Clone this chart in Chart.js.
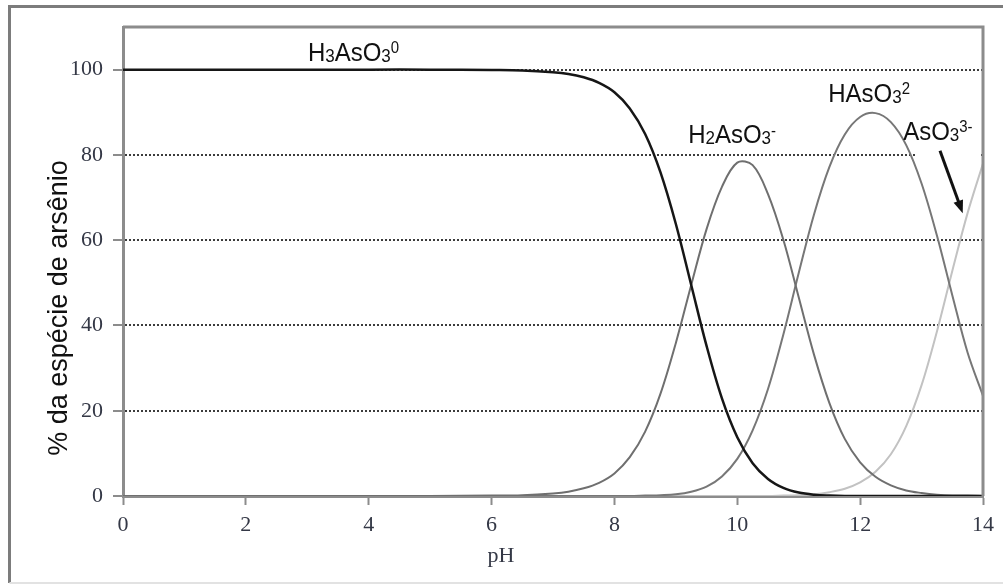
<!DOCTYPE html>
<html>
<head>
<meta charset="utf-8">
<title>Especiação do arsênio</title>
<script src="https://cdn.jsdelivr.net/npm/chart.js@4/dist/chart.umd.min.js"></script>
<style>
	html, body { margin: 0; padding: 0; background: #fff; }
	#wrap { position: relative; width: 1003px; height: 586px; }
</style>
</head>
<body>
<div id="wrap"><canvas id="species-chart"></canvas></div>
<script>
// pH grid and % of each arsenite species
const phValues = [0, 1, 2, 3, 4, 5, 6, 6.5, 7, 7.25, 7.5, 7.75, 8, 8.25, 8.5, 8.75, 9, 9.25, 9.5, 9.75, 10, 10.25, 10.5, 10.75, 11, 11.25, 11.5, 11.75, 12, 12.25, 12.5, 12.75, 13, 13.25, 13.5, 13.75, 14];
const h3aso3 = [100, 100, 100, 100, 100, 100, 99.9, 99.8, 99.4, 99.0, 98.2, 96.9, 94.7, 90.9, 84.9, 75.9, 63.8, 49.5, 35.2, 22.9, 13.8, 7.7, 4.0, 1.9, 0.8, 0.3, 0.1, 0, 0, 0, 0, 0, 0, 0, 0, 0, 0];
const h2aso3 = [0, 0, 0, 0, 0, 0, 0.1, 0.2, 0.6, 1.0, 1.8, 3.1, 5.3, 9.1, 15.1, 24.0, 35.9, 49.5, 62.6, 72.5, 78.2, 77.6, 70.8, 60.1, 46.6, 33.1, 21.8, 13.4, 7.9, 4.5, 2.5, 1.3, 0.7, 0.3, 0.1, 0.1, 0];
const haso3 = [0, 0, 0, 0, 0, 0, 0, 0, 0, 0, 0, 0, 0, 0, 0.1, 0.2, 0.4, 1.0, 2.2, 4.6, 8.7, 15.4, 25.1, 37.9, 52.3, 66.1, 77.2, 84.8, 88.9, 89.8, 87.7, 82.3, 73.3, 61.1, 47.1, 33.6, 23.5];
const aso3 = [0, 0, 0, 0, 0, 0, 0, 0, 0, 0, 0, 0, 0, 0, 0, 0, 0, 0, 0, 0, 0, 0, 0, 0.1, 0.2, 0.4, 0.9, 1.7, 3.2, 5.7, 9.8, 16.4, 26.0, 38.6, 52.8, 66.4, 78.0];

const xTicks = [0, 2, 4, 6, 8, 10, 12, 14];
const yTicks = [0, 20, 40, 60, 80, 100];

const axisTitleY = '% da espécie de arsênio';
const axisTitleX = 'pH';

// formula labels: [text, 'n' | 'sub' | 'sup'], anchored at [pH, %]
const speciesLabels = [
	{ at: [3.01, 102.1], parts: [['H', 'n'], ['3', 'sub'], ['AsO', 'n'], ['3', 'sub'], ['0', 'sup']] },
	{ at: [9.2, 82.7], parts: [['H', 'n'], ['2', 'sub'], ['AsO', 'n'], ['3', 'sub'], ['-', 'sup']] },
	{ at: [11.48, 92.5], parts: [['HAsO', 'n'], ['3', 'sub'], ['2', 'sup']] },
	{ at: [12.7, 83.6], parts: [['AsO', 'n'], ['3', 'sub'], ['3-', 'sup']] },
];

const GRAY = '#8c8c8c';
const TICK_COLOR = '#343846';
const TICK_FONT = { family: '"Liberation Serif", "Times New Roman", serif', size: 22 };
const SANS = '"Liberation Sans", Arial, sans-serif';

function toPoints(ys) {
	return phValues.map((x, i) => ({ x: x, y: ys[i] }));
}

function drawFormula(ctx, parts, x, y, size) {
	let cx = 0;
	ctx.save();
	ctx.translate(x, y);
	ctx.scale(1, 1.1);
	ctx.fillStyle = '#111';
	ctx.textBaseline = 'alphabetic';
	ctx.textAlign = 'left';
	parts.forEach(([txt, kind]) => {
		let fs = size, dy = 0;
		if (kind === 'sub') { fs = Math.round(size * 0.72); dy = 1; }
		if (kind === 'sup') { fs = Math.round(size * 0.62); dy = -size * 0.28; }
		ctx.font = fs + 'px ' + SANS;
		ctx.fillText(txt, cx, dy);
		cx += ctx.measureText(txt).width;
	});
	ctx.restore();
}

const decorations = {
	id: 'decorations',
	beforeDraw(chart) {
		const ctx = chart.ctx;
		ctx.save();
		ctx.fillStyle = '#fff';
		ctx.fillRect(0, 0, chart.width, chart.height);
		// outer frame
		ctx.strokeStyle = '#7c7c7c';
		ctx.lineWidth = 3;
		ctx.beginPath();
		ctx.moveTo(1003, 6.5);
		ctx.lineTo(9.5, 6.5);
		ctx.lineTo(9.5, 583);
		ctx.stroke();
		ctx.strokeStyle = '#e2e2e2';
		ctx.lineWidth = 2;
		ctx.beginPath();
		ctx.moveTo(9.5, 583);
		ctx.lineTo(1003, 583);
		ctx.stroke();
		ctx.restore();
	},
	beforeDatasetsDraw(chart) {
		// blank patch behind the AsO3 label
		const { ctx, scales: { x, y } } = chart;
		ctx.save();
		ctx.fillStyle = '#fff';
		const x0 = x.getPixelForValue(12.9), x1 = x.getPixelForValue(13.95);
		const y0 = y.getPixelForValue(89.9), y1 = y.getPixelForValue(79.2);
		ctx.fillRect(x0, y0, x1 - x0, y1 - y0);
		ctx.restore();
	},
	afterDatasetsDraw(chart) {
		const { ctx, chartArea: a } = chart;
		ctx.save();
		ctx.strokeStyle = GRAY;
		ctx.lineWidth = 3;
		ctx.beginPath();
		ctx.moveTo(a.left, a.top);
		ctx.lineTo(a.right, a.top);
		ctx.lineTo(a.right, a.bottom);
		ctx.stroke();
		ctx.restore();
	},
	afterDraw(chart) {
		const { ctx, scales: { x, y } } = chart;

		speciesLabels.forEach(l => {
			drawFormula(ctx, l.parts, x.getPixelForValue(l.at[0]), y.getPixelForValue(l.at[1]), 24);
		});

		// arrow pointing at the AsO3 curve
		const ax0 = x.getPixelForValue(13.3), ay0 = y.getPixelForValue(81.0);
		const ax1 = x.getPixelForValue(13.67), ay1 = y.getPixelForValue(66.3);
		const ang = Math.atan2(ay1 - ay0, ax1 - ax0);
		ctx.save();
		ctx.strokeStyle = '#111';
		ctx.fillStyle = '#111';
		ctx.lineWidth = 3;
		ctx.beginPath();
		ctx.moveTo(ax0, ay0);
		ctx.lineTo(ax1 - 8 * Math.cos(ang), ay1 - 8 * Math.sin(ang));
		ctx.stroke();
		ctx.beginPath();
		ctx.moveTo(ax1, ay1);
		ctx.lineTo(ax1 - 13 * Math.cos(ang) + 5 * Math.sin(ang), ay1 - 13 * Math.sin(ang) - 5 * Math.cos(ang));
		ctx.lineTo(ax1 - 13 * Math.cos(ang) - 5 * Math.sin(ang), ay1 - 13 * Math.sin(ang) + 5 * Math.cos(ang));
		ctx.closePath();
		ctx.fill();

		// axis titles
		ctx.fillStyle = '#111';
		ctx.textAlign = 'center';
		ctx.textBaseline = 'middle';
		ctx.save();
		ctx.translate(60, 308);
		ctx.rotate(-Math.PI / 2);
		ctx.font = '27px ' + SANS;
		ctx.fillText(axisTitleY, 0, 0);
		ctx.restore();
		ctx.fillStyle = TICK_COLOR;
		ctx.font = '22px ' + TICK_FONT.family;
		ctx.fillText(axisTitleX, 501, 556);
		ctx.restore();
	}
};

const speciesChart = new Chart(document.getElementById('species-chart'), {
	type: 'line',
	data: {
		datasets: [
			{ label: 'H3AsO3', data: toPoints(h3aso3), borderColor: '#161616', borderWidth: 2.5 },
			{ label: 'H2AsO3-', data: toPoints(h2aso3), borderColor: '#6f6f6f', borderWidth: 2 },
			{ label: 'HAsO3 2-', data: toPoints(haso3), borderColor: '#777777', borderWidth: 2 },
			{ label: 'AsO3 3-', data: toPoints(aso3), borderColor: '#c2c2c2', borderWidth: 2 },
		]
	},
	options: {
		responsive: true,
		maintainAspectRatio: false,
		animation: false,
		layout: { padding: { top: 27, right: 20, left: 0, bottom: 0 } },
		elements: {
			point: { radius: 0 },
			line: { tension: 0.35, fill: false }
		},
		plugins: {
			legend: { display: false },
			tooltip: { enabled: false }
		},
		scales: {
			x: {
				type: 'linear',
				min: 0,
				max: 14,
				afterBuildTicks(scale) {
					scale.ticks = xTicks.map(v => ({ value: v }));
				},
				afterFit(scale) { scale.height = 90; },
				ticks: { color: TICK_COLOR, font: TICK_FONT, padding: 7, maxRotation: 0 },
				grid: { drawOnChartArea: false, tickLength: 9, tickColor: GRAY, tickWidth: 2 },
				border: { color: GRAY, width: 3 }
			},
			y: {
				min: 0,
				max: 110,
				afterBuildTicks(scale) {
					scale.ticks = yTicks.map(v => ({ value: v }));
				},
				afterFit(scale) { scale.width = 123; },
				ticks: { color: TICK_COLOR, font: TICK_FONT, padding: 10 },
				grid: {
					color: ctx => ctx.tick && ctx.tick.value === 0 ? 'rgba(0,0,0,0)' : '#3c3c3c',
					lineWidth: 2,
					tickLength: 10,
					tickColor: GRAY,
					tickWidth: 2
				},
				border: { color: GRAY, width: 3, dash: [2, 2] }
			}
		}
	},
	plugins: [decorations]
});
</script>
</body>
</html>
